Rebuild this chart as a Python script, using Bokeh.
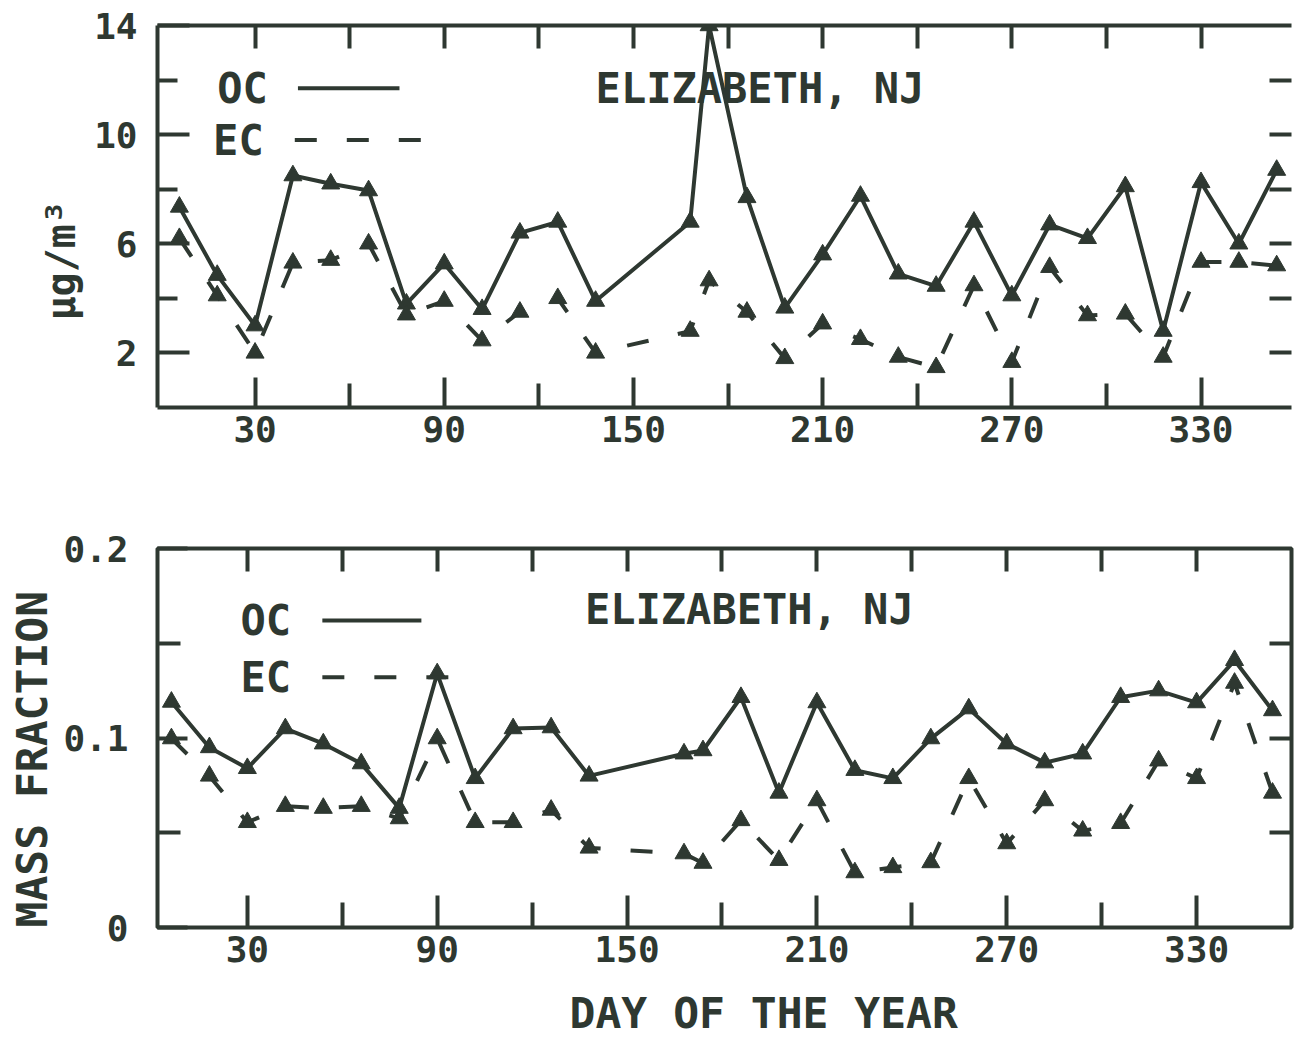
from bokeh.plotting import figure
from bokeh.layouts import column
from bokeh.models import LinearAxis, FixedTicker, Label, Range1d, NumeralTickFormatter, Title
from bokeh.embed import file_html
from bokeh.resources import INLINE

# ---------------- data ----------------
days = [6, 18, 30, 42, 54, 66, 78, 90, 102, 114, 126, 138, 168, 174, 186, 198,
        210, 222, 234, 246, 258, 270, 282, 294, 306, 318, 330, 342, 354]

oc_conc = [7.35, 4.85, 3.0, 8.5, 8.2, 7.95, 3.8, 5.27, 3.6, 6.4, 6.8, 3.9, 6.8, 14.0,
           7.7, 3.65, 5.6, 7.75, 4.9, 4.45, 6.8, 4.1, 6.7, 6.2, 8.1, 2.8, 8.25, 6.0, 8.7]
ec_conc = [6.2, 4.1, 2.0, 5.3, 5.4, 6.0, 3.4, 3.9, 2.45, 3.5, 4.0, 2.0, 2.8, 4.65,
           3.5, 1.8, 3.07, 2.5, 1.85, 1.47, 4.47, 1.66, 5.14, 3.37, 3.43, 1.85, 5.33, 5.33, 5.2]

oc_frac = [0.119, 0.095, 0.084, 0.105, 0.097, 0.0865, 0.063, 0.134, 0.0787, 0.105,
           0.1055, 0.080, 0.0917, 0.0934, 0.1215, 0.071, 0.1187, 0.083, 0.0787, 0.0997,
           0.1155, 0.097, 0.087, 0.0917, 0.1215, 0.125, 0.1187, 0.141, 0.1145]
ec_frac = [0.0997, 0.080, 0.0555, 0.064, 0.063, 0.064, 0.0575, 0.0997, 0.0555, 0.0555,
           0.062, 0.042, 0.039, 0.034, 0.0565, 0.0355, 0.067, 0.029, 0.0317, 0.0343,
           0.0787, 0.0443, 0.067, 0.051, 0.055, 0.088, 0.0787, 0.129, 0.071]

x_major = [30, 90, 150, 210, 270, 330]
x_minor = [60, 120, 180, 240, 300]
x_all = [30, 60, 90, 120, 150, 180, 210, 240, 270, 300, 330]
conc_major = [2, 6, 10, 14]
conc_minor = [4, 8, 12]
conc_right = [2, 4, 6, 8, 10, 12]
frac_major = [0, 0.1, 0.2]
frac_minor = [0.05, 0.15]
frac_right = [0.05, 0.1, 0.15]

site = "ELIZABETH, NJ"
series_names = ["OC", "EC"]
y1_title = "µg/m³"
y2_title = "MASS FRACTION"
x_title = "DAY OF THE YEAR"

# ---------------- style ----------------
INK = "#2e3831"
FONT = "DejaVu Sans Mono"
TICK_FS = "36px"
TEXT_FS = "42px"
LW = 4
DASH = "22 30"
MSIZE = 18


def style_axis(ax, major, minor, tin=30, tmin=20, line=True):
    ax.ticker = FixedTicker(ticks=major, minor_ticks=minor)
    ax.major_tick_in = tin
    ax.major_tick_out = 0
    ax.minor_tick_in = tmin
    ax.minor_tick_out = 0
    ax.major_tick_line_width = LW
    ax.minor_tick_line_width = LW
    ax.major_tick_line_color = INK
    ax.minor_tick_line_color = INK
    ax.axis_line_width = LW
    ax.axis_line_color = INK if line else None
    ax.major_label_text_font = FONT
    ax.major_label_text_font_size = TICK_FS
    ax.major_label_text_font_style = "bold"
    ax.major_label_text_color = INK


def add_frame_axes(p, yticks, line=True):
    # label-free tick rows on the top and right frame edges (minor ticks only)
    top = LinearAxis(ticker=FixedTicker(ticks=[], minor_ticks=x_all),
                     major_tick_in=0, major_tick_out=0, minor_tick_in=23, minor_tick_out=0,
                     minor_tick_line_width=LW, minor_tick_line_color=INK,
                     axis_line_width=LW, axis_line_color=INK if line else None,
                     major_label_standoff=0)
    p.add_layout(top, "above")
    right = LinearAxis(ticker=FixedTicker(ticks=[], minor_ticks=yticks),
                       major_tick_in=0, major_tick_out=0, minor_tick_in=22, minor_tick_out=0,
                       minor_tick_line_width=LW, minor_tick_line_color=INK,
                       axis_line_color=None, major_label_standoff=0)
    p.add_layout(right, "right")


def draw_series(p, oc, ec):
    p.line(days, oc, line_color=INK, line_width=LW)
    p.scatter(days, oc, marker="triangle", size=MSIZE, color=INK)
    p.line(days, ec, line_color=INK, line_width=LW, line_dash=DASH)
    p.scatter(days, ec, marker="triangle", size=MSIZE, color=INK)


def text_label(p, x, y, txt, size=TEXT_FS, align="left"):
    p.add_layout(Label(x=x, y=y, text=txt, text_font=FONT, text_font_size=size,
                       text_font_style="bold", text_color=INK,
                       text_align=align, text_baseline="middle"))


def side_title(p, txt, side, offset, size, valign="middle", standoff=0):
    p.add_layout(Title(text=txt, align="left", offset=offset, vertical_align=valign,
                       standoff=standoff, text_font=FONT, text_font_size=size,
                       text_font_style="bold", text_color=INK), side)


def base_fig(height, xr, yr, left, right, top, bottom):
    p = figure(width=1296, height=height, x_range=xr, y_range=yr,
               output_backend="svg", toolbar_location=None,
               min_border_left=left, min_border_right=right,
               min_border_top=top, min_border_bottom=bottom)
    p.grid.visible = False
    p.background_fill_color = "white"
    p.border_fill_color = "white"
    return p


# ---------------- top panel ----------------
p1 = base_fig(500, Range1d(-0.94, 358.7), Range1d(0, 14), 157, 0, 25, 93)
p1.outline_line_color = None
style_axis(p1.xaxis[0], x_major, x_minor, tin=30, tmin=24)
p1.xaxis[0].major_label_standoff = 8
style_axis(p1.yaxis[0], conc_major, conc_minor, tin=32, tmin=20)
p1.yaxis[0].major_label_standoff = 20
add_frame_axes(p1, conc_right, line=True)
side_title(p1, y1_title, "left", 87, "40px", valign="middle", standoff=14)

draw_series(p1, oc_conc, ec_conc)

text_label(p1, 18, 11.7, series_names[0])
p1.line([43.6, 75.8], [11.7, 11.7], line_color=INK, line_width=LW)
text_label(p1, 16.7, 9.8, series_names[1])
p1.line([42.6, 83.5], [9.8, 9.8], line_color=INK, line_width=LW, line_dash=DASH)
text_label(p1, 138, 11.69, site)

# ---------------- bottom panel ----------------
p2 = base_fig(480, Range1d(1.6, 360), Range1d(0, 0.2), 157, 5, 48, 53)
p2.outline_line_color = INK
p2.outline_line_width = LW
style_axis(p2.xaxis[0], x_major, x_minor, tin=32, tmin=25, line=False)
p2.xaxis[0].major_label_standoff = 8
style_axis(p2.yaxis[0], frac_major, frac_minor, tin=30, tmin=23, line=False)
p2.yaxis[0].formatter = NumeralTickFormatter(format="0.[0]")
p2.yaxis[0].major_label_standoff = 29
add_frame_axes(p2, frac_right, line=False)
side_title(p2, y2_title, "left", 0, "43px", valign="middle", standoff=6)

draw_series(p2, oc_frac, ec_frac)

text_label(p2, 27.8, 0.162, series_names[0])
p2.line([53.7, 85.0], [0.162, 0.162], line_color=INK, line_width=LW)
text_label(p2, 27.8, 0.132, series_names[1])
p2.line([53.7, 94.0], [0.132, 0.132], line_color=INK, line_width=LW, line_dash=DASH)
text_label(p2, 136.7, 0.168, site)

# ---------------- strip holding the shared x-axis title (same day scale as p2) ----------------
p3 = figure(width=1296, height=57, x_range=p2.x_range, y_range=Range1d(0, 57),
            x_axis_type=None, y_axis_type=None, output_backend="svg", toolbar_location=None,
            min_border_left=157, min_border_right=5, min_border_top=0, min_border_bottom=0)
p3.grid.visible = False
p3.outline_line_color = None
p3.background_fill_color = "white"
p3.border_fill_color = "white"
text_label(p3, 193.2, 25, x_title, size="43px", align="center")

layout = column(p1, p2, p3, spacing=0)
open("out.html", "w").write(file_html(layout, INLINE))
